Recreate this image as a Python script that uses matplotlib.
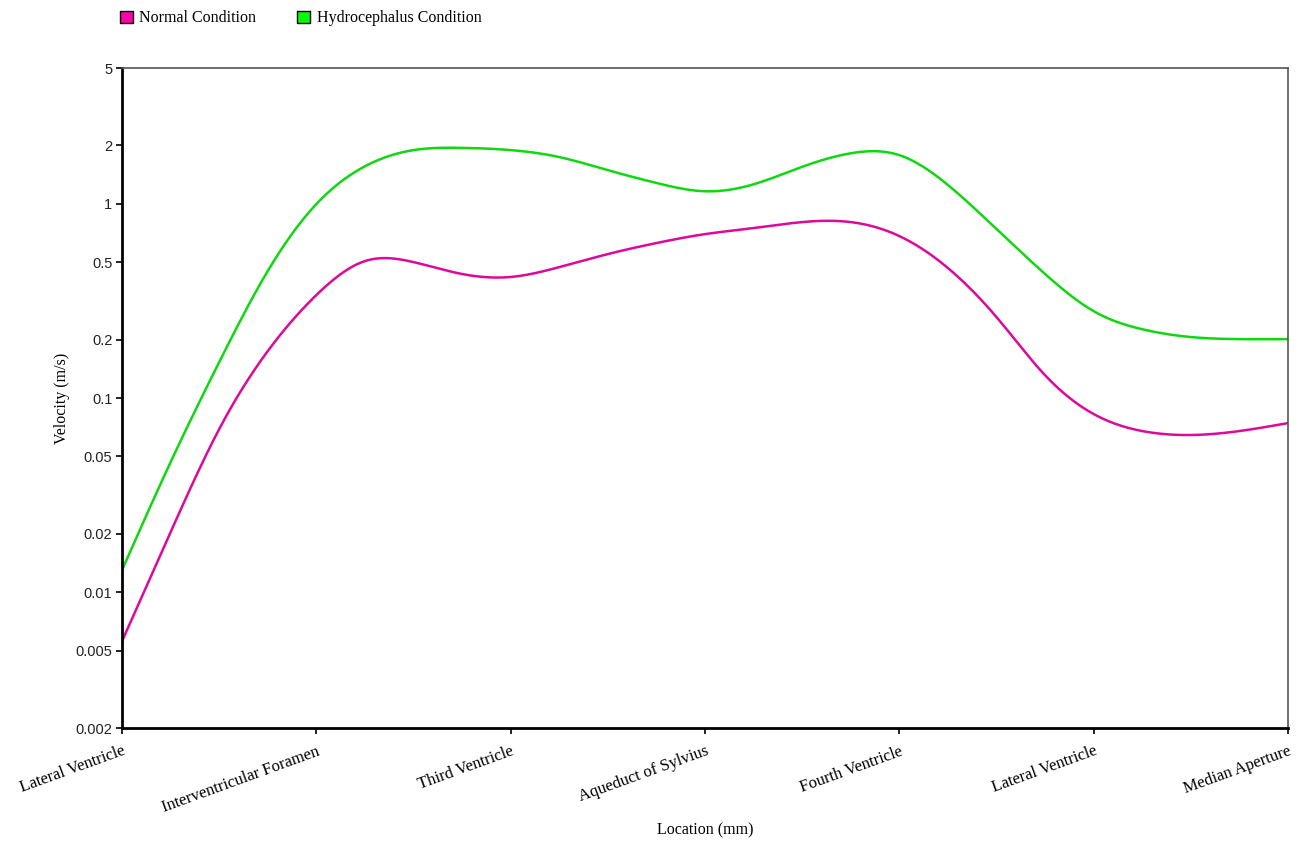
import matplotlib
matplotlib.use('Agg')
import matplotlib.pyplot as plt
from matplotlib.patches import Patch
import numpy as np

# locations along the CSF pathway
locations = ['Lateral Ventricle', 'Interventricular Foramen', 'Third Ventricle',
             'Aqueduct of Sylvius', 'Fourth Ventricle', 'Lateral Ventricle',
             'Median Aperture']

# sample positions (in category units)
pos = [0, 0.25, 0.5, 0.75, 1, 1.25, 1.5, 1.75, 2, 2.25, 2.5, 2.75, 3,
       3.25, 3.5, 3.75, 4, 4.25, 4.5, 4.75, 5, 5.25, 5.5, 5.75, 6]

# velocity (m/s)
normal = [0.0056, 0.0204, 0.0692, 0.1745, 0.339, 0.507, 0.501, 0.435, 0.420,
          0.472, 0.551, 0.628, 0.698, 0.750, 0.805, 0.805, 0.682, 0.467,
          0.261, 0.131, 0.0827, 0.0676, 0.0645, 0.0676, 0.0743]
hydro = [0.0130, 0.0468, 0.153, 0.451, 0.997, 1.56, 1.89, 1.94, 1.89,
         1.74, 1.49, 1.28, 1.16, 1.26, 1.55, 1.82, 1.78, 1.25, 0.741,
         0.435, 0.280, 0.226, 0.206, 0.201, 0.201]

y_ticks = [0.002, 0.005, 0.01, 0.02, 0.05, 0.1, 0.2, 0.5, 1, 2, 5]


def smooth(x, y, n=600):
    """natural cubic spline through the points, in log space"""
    x = np.asarray(x, float)
    ly = np.log10(np.asarray(y, float))
    k = len(x)
    h = np.diff(x)
    A = np.zeros((k, k))
    b = np.zeros(k)
    A[0, 0] = A[-1, -1] = 1
    for i in range(1, k - 1):
        A[i, i - 1] = h[i - 1]
        A[i, i] = 2 * (h[i - 1] + h[i])
        A[i, i + 1] = h[i]
        b[i] = 6 * ((ly[i + 1] - ly[i]) / h[i] - (ly[i] - ly[i - 1]) / h[i - 1])
    m = np.linalg.solve(A, b)
    xs = np.linspace(x[0], x[-1], n)
    j = np.clip(np.searchsorted(x, xs) - 1, 0, k - 2)
    t0 = xs - x[j]
    t1 = x[j + 1] - xs
    hj = h[j]
    ys = (m[j] * t1 ** 3 / (6 * hj) + m[j + 1] * t0 ** 3 / (6 * hj)
          + (ly[j] / hj - m[j] * hj / 6) * t1
          + (ly[j + 1] / hj - m[j + 1] * hj / 6) * t0)
    return xs, 10 ** ys


plt.rcParams['font.family'] = ['Liberation Serif', 'DejaVu Serif']

fig = plt.figure(figsize=(13.01, 8.43), dpi=100)
ax = fig.add_axes([0.0938, 0.1364, 0.8962, 0.7829])

c_normal = '#DB0A9A'
c_hydro = '#10D810'

sx, sy = smooth(pos, normal)
ax.plot(sx, sy, color=c_normal, lw=1.8)
sx, sy = smooth(pos, hydro)
ax.plot(sx, sy, color=c_hydro, lw=1.8)

ax.set_yscale('log')
ax.set_ylim(0.002, 5)
ax.set_xlim(0, len(locations) - 1)
ax.set_yticks(y_ticks)
ax.set_yticklabels([f'{v:g}' for v in y_ticks], family='Liberation Sans',
                   fontsize=10.5, color='#222222')
ax.yaxis.set_minor_locator(matplotlib.ticker.NullLocator())
ax.set_xticks(range(len(locations)))
ax.set_xticklabels(locations, rotation=20, ha='right', va='top',
                   rotation_mode='anchor', fontsize=12)

ax.tick_params(axis='both', direction='out', length=4, width=1.2, color='black')
ax.tick_params(axis='x', pad=7)
ax.tick_params(axis='y', pad=3)

for s in ('left', 'bottom'):
    ax.spines[s].set_linewidth(2)
    ax.spines[s].set_color('black')
for s in ('top', 'right'):
    ax.spines[s].set_linewidth(1.2)
    ax.spines[s].set_color('#555555')

ax.set_ylabel('Velocity (m/s)', fontsize=11.5, labelpad=4)
ax.set_xlabel('Location (mm)', fontsize=11.5)
ax.xaxis.set_label_coords(0.5, -0.143)

handles = [Patch(facecolor='#FF00AA', edgecolor='black', lw=1),
           Patch(facecolor='#00FF00', edgecolor='black', lw=1)]
fig.legend(handles, ['Normal Condition', 'Hydrocephalus Condition'],
           loc='upper left', bbox_to_anchor=(0.081, 1.005), ncol=2,
           frameon=False, fontsize=11.5, handlelength=0.8, handleheight=0.8,
           handletextpad=0.4, columnspacing=2.6)

fig.savefig('out.png', dpi=100)
